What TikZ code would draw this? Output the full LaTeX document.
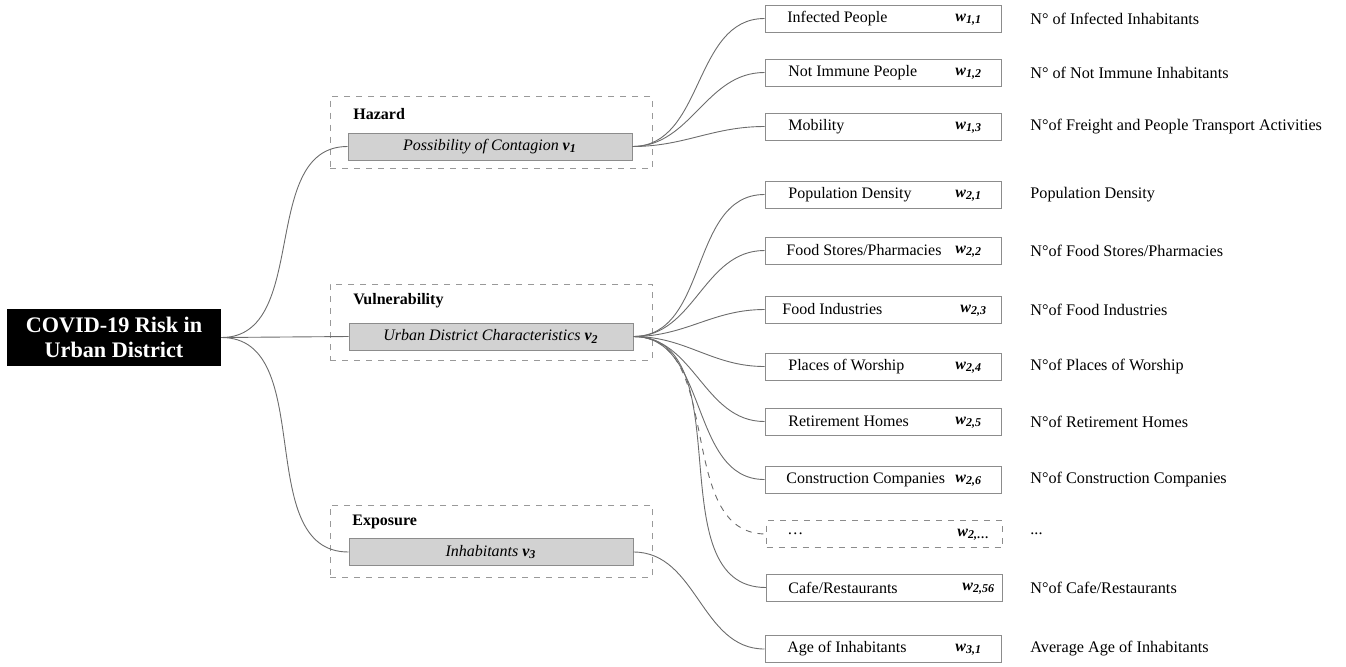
\documentclass[tikz,border=0pt]{standalone}
\usepackage{fontspec}
\setmainfont{Liberation Serif}
\begin{document}
\begin{tikzpicture}[x=0.5pt,y=-0.5pt,
  rootbox/.style={fill=black,text=white,font=\fontsize{11.1}{12.3}\selectfont\bfseries,align=center,minimum width=107pt,minimum height=28.5pt,inner sep=0pt},
  grpbox/.style={draw=gray!80,dashed,line width=0.5pt,minimum width=161pt,inner sep=0pt},
  grplabel/.style={anchor=west,font=\fontsize{8}{9}\selectfont\bfseries,inner sep=0pt},
  factorbox/.style={draw=gray!90,fill=gray!35,line width=0.5pt,minimum width=142pt,minimum height=13.5pt,inner sep=0pt,font=\fontsize{8}{9}\selectfont\itshape},
  indbox/.style={draw=gray!90,line width=0.5pt,minimum width=118pt,minimum height=13.5pt,inner sep=0pt},
  indboxd/.style={indbox,dashed},
  indname/.style={anchor=west,font=\fontsize{8}{9}\selectfont,inner sep=0pt},
  wlab/.style={anchor=west,font=\fontsize{8}{9}\selectfont\bfseries\itshape,inner sep=0pt},
  desctext/.style={anchor=west,font=\fontsize{8.1}{9}\selectfont,inner sep=0pt},
  conn/.style={draw=gray!85!black,line width=0.45pt},
]
\useasboundingbox (0,0) rectangle (1346,666);

\node[rootbox] (root) at (114,337.5) {COVID-19 Risk in\\Urban District};

\node[grpbox,minimum height=36pt] (gH) at (491,132.5) {};
\node[grpbox,minimum height=38pt] (gV) at (491,322) {};
\node[grpbox,minimum height=36pt] (gE) at (491,541) {};
\node[grplabel] (lH) at (353,114) {Hazard};
\node[grplabel] (lV) at (353,301) {Vulnerability};
\node[grplabel] (lE) at (352,522) {Exposure};

\node[factorbox] (v1) at (490,146.5) {Possibility of Contagion \textbf{v\textsubscript{1}}};
\node[factorbox] (v2) at (491,336.5) {Urban District Characteristics \textbf{v\textsubscript{2}}};
\node[factorbox] (v3) at (491,552) {Inhabitants \textbf{v\textsubscript{3}}};

\draw[conn] (root.east) to[out=0,in=180] (v1.west);
\draw[conn] (root.east) -- (v2.west);
\draw[conn] (root.east) to[out=0,in=180] (v3.west);

% indicator boxes
\node[indbox] (b11) at (883,18.5) {};
\node[indbox] (b12) at (883,72.5) {};
\node[indbox] (b13) at (883,126.5) {};
\node[indbox] (b21) at (883,194.5) {};
\node[indbox] (b22) at (883,250.5) {};
\node[indbox] (b23) at (883,309.5) {};
\node[indbox] (b24) at (883,366.5) {};
\node[indbox] (b25) at (883,421.5) {};
\node[indbox] (b26) at (883,479.5) {};
\node[indboxd] (b2x) at (884.5,534) {};
\node[indbox] (b256) at (884.5,587.5) {};
\node[indbox] (b31) at (883,649) {};

\node[indname] (n11) at (787,18.5) {Infected People};
\node[indname] (n12) at (788,72.5) {Not Immune People};
\node[indname] (n13) at (788,126.5) {Mobility};
\node[indname] (n21) at (788,194.5) {Population Density};
\node[indname] (n22) at (786,250.5) {Food Stores/Pharmacies};
\node[indname] (n23) at (782,309.5) {Food Industries};
\node[indname] (n24) at (788,366.5) {Places of Worship};
\node[indname] (n25) at (788,421.5) {Retirement Homes};
\node[indname] (n26) at (786,479.5) {Construction Companies};
\node[indname] (n2x) at (787,534) {…};
\node[indname] (n256) at (788,587.5) {Cafe/Restaurants};
\node[indname] (n31) at (787,649) {Age of Inhabitants};

\node[wlab] (w11) at (955,19.5) {w\textsubscript{1,1}};
\node[wlab] (w12) at (955,73.5) {w\textsubscript{1,2}};
\node[wlab] (w13) at (955,127.5) {w\textsubscript{1,3}};
\node[wlab] (w21) at (955,195.5) {w\textsubscript{2,1}};
\node[wlab] (w22) at (955,251.5) {w\textsubscript{2,2}};
\node[wlab] (w23) at (960,310.5) {w\textsubscript{2,3}};
\node[wlab] (w24) at (955,367.5) {w\textsubscript{2,4}};
\node[wlab] (w25) at (955,422.5) {w\textsubscript{2,5}};
\node[wlab] (w26) at (955,480.5) {w\textsubscript{2,6}};
\node[wlab] (w2x) at (957,534.5) {w\textsubscript{2,…}};
\node[wlab] (w256) at (962,588.5) {w\textsubscript{2,56}};
\node[wlab] (w31) at (955,649.5) {w\textsubscript{3,1}};

\node[desctext] (d11) at (1030,18.5) {N° of Infected Inhabitants};
\node[desctext] (d12) at (1030,72.5) {N° of Not Immune Inhabitants};
\node[desctext] (d13) at (1030,126.5) {N°of Freight and People Transport Activities};
\node[desctext] (d21) at (1030,194.5) {Population Density};
\node[desctext] (d22) at (1030,250.5) {N°of Food Stores/Pharmacies};
\node[desctext] (d23) at (1030,309.5) {N°of Food Industries};
\node[desctext] (d24) at (1030,366.5) {N°of Places of Worship};
\node[desctext] (d25) at (1030,421.5) {N°of Retirement Homes};
\node[desctext] (d26) at (1030,479.5) {N°of Construction Companies};
\node[desctext] (d2x) at (1030,534) {...};
\node[desctext] (d256) at (1030,587.5) {N°of Cafe/Restaurants};
\node[desctext] (d31) at (1030,649) {Average Age of Inhabitants};

\foreach \b in {b11,b12,b13}
  \draw[conn] (v1.east) to[out=0,in=180] (\b.west);
\foreach \b in {b21,b22,b23,b24,b25,b26,b256}
  \draw[conn] (v2.east) to[out=0,in=180] (\b.west);
\draw[conn,dashed] (v2.east) to[out=0,in=180] (b2x.west);
\draw[conn] (v3.east) to[out=0,in=180] (b31.west);
\end{tikzpicture}
\end{document}
